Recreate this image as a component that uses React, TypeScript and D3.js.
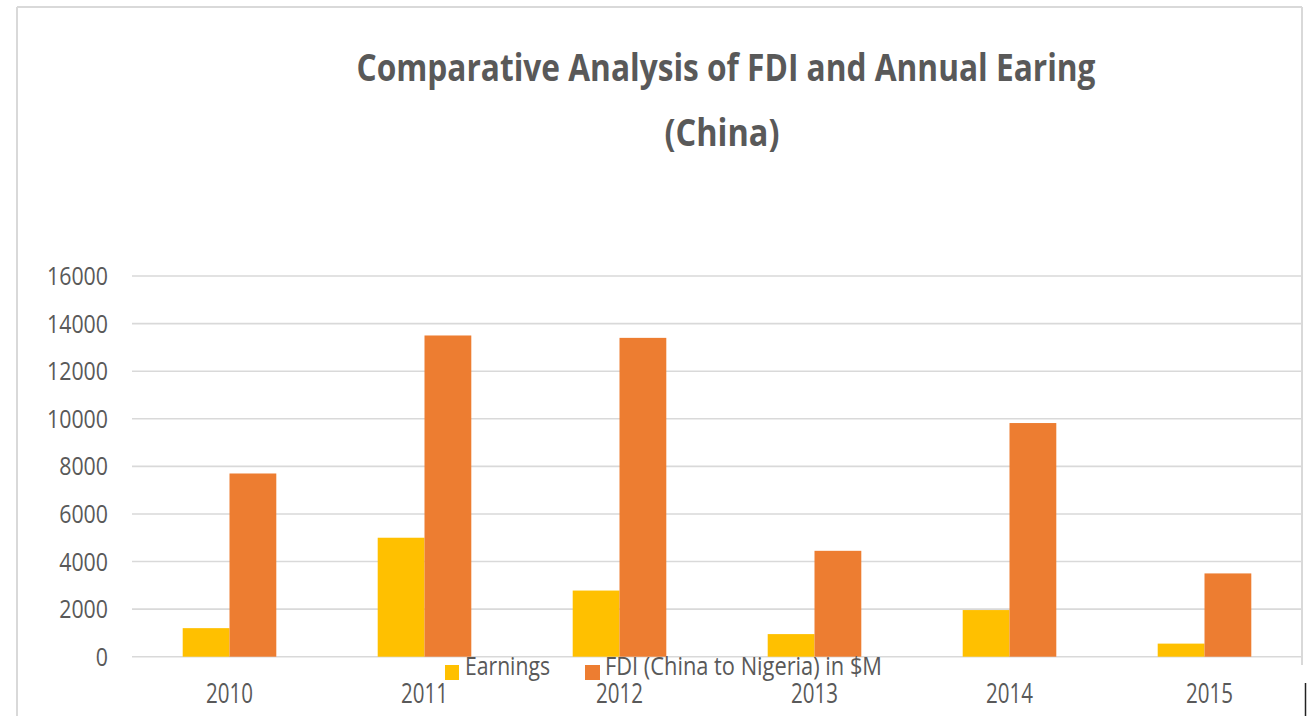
import React from 'react';
import * as d3 from 'd3';

const years: string[] = ['2010', '2011', '2012', '2013', '2014', '2015'];
const earnings: number[] = [1200, 5000, 2780, 950, 1960, 550];
const fdi: number[] = [7700, 13500, 13400, 4450, 9820, 3500];
const seriesNames: string[] = ['Earnings', 'FDI (China to Nigeria) in $M'];
const seriesColors: string[] = ['#FFC000', '#ED7D31'];
const yTicks: number[] = [0, 2000, 4000, 6000, 8000, 10000, 12000, 14000, 16000];
const titleLine1 = 'Comparative Analysis of FDI and Annual Earing';
const titleLine2 = '(China)';

const W = 1314;
const H = 716;
const FONT = "'Open Sans', 'DejaVu Sans', sans-serif";
const TEXT = '#595959';

export default function App() {
  const left = 132, right = 1302, top = 276, bottom = 656.7;
  const x = d3.scaleBand<string>().domain(years).range([left, right]).padding(0);
  const groupW = x.step() * 0.48;
  const x1 = d3.scaleBand<string>().domain(seriesNames).range([0, groupW]).padding(0);
  const y = d3.scaleLinear().domain([0, 16000]).range([bottom, top]);
  const values = [earnings, fdi];

  return (
    <svg
      width={W}
      height={H}
      style={{ position: 'fixed', left: 0, top: 0, background: '#fff' }}
      fontFamily={FONT}
    >
      <rect x={0} y={0} width={W} height={H} fill="#fff" />
      {/* frame */}
      <line x1={17} y1={7} x2={1302} y2={7} stroke="#D9D9D9" strokeWidth={2} />
      <line x1={17} y1={7} x2={17} y2={716} stroke="#D9D9D9" strokeWidth={2} />
      <line x1={1302} y1={7} x2={1302} y2={665} stroke="#D9D9D9" strokeWidth={2} />
      <line x1={1305.5} y1={683} x2={1305.5} y2={716} stroke="#222" strokeWidth={1.5} />

      {/* title */}
      <text x={726} y={81} textAnchor="middle" fontSize={37} fontWeight="bold" fill={TEXT}
        textLength={739} lengthAdjust="spacingAndGlyphs">{titleLine1}</text>
      <text x={722} y={146} textAnchor="middle" fontSize={37} fontWeight="bold" fill={TEXT}
        textLength={115} lengthAdjust="spacingAndGlyphs">{titleLine2}</text>

      {/* gridlines & y labels */}
      {yTicks.map((t) => (
        <g key={t}>
          <line x1={left} x2={right} y1={y(t)} y2={y(t)} stroke="#D9D9D9" strokeWidth={1.6} />
          <text x={108} y={y(t) + 9} textAnchor="end" fontSize={25} fill={TEXT}
            textLength={String(t).length * 12.2} lengthAdjust="spacingAndGlyphs">{t}</text>
        </g>
      ))}

      {/* bars */}
      {years.map((yr, i) => {
        const gx = (x(yr) as number) + x.bandwidth() / 2 - groupW / 2;
        return (
          <g key={yr}>
            {seriesNames.map((s, si) => (
              <rect
                key={s}
                x={gx + (x1(s) as number)}
                y={y(values[si][i])}
                width={x1.bandwidth()}
                height={y(0) - y(values[si][i])}
                fill={seriesColors[si]}
              />
            ))}
            <text x={(x(yr) as number) + x.bandwidth() / 2 + (i === 5 ? 5 : 0)} y={703} textAnchor="middle"
              fontSize={28} fill={TEXT} textLength={47} lengthAdjust="spacingAndGlyphs">{yr}</text>
          </g>
        );
      })}

      {/* legend */}
      <rect x={445} y={665} width={14} height={15} fill={seriesColors[0]} />
      <text x={465} y={675} fontSize={25} fill={TEXT} textLength={85} lengthAdjust="spacingAndGlyphs">{seriesNames[0]}</text>
      <rect x={585} y={665} width={15} height={15} fill={seriesColors[1]} />
      <text x={605} y={675} fontSize={25} fill={TEXT} textLength={277} lengthAdjust="spacingAndGlyphs">{seriesNames[1]}</text>
    </svg>
  );
}
